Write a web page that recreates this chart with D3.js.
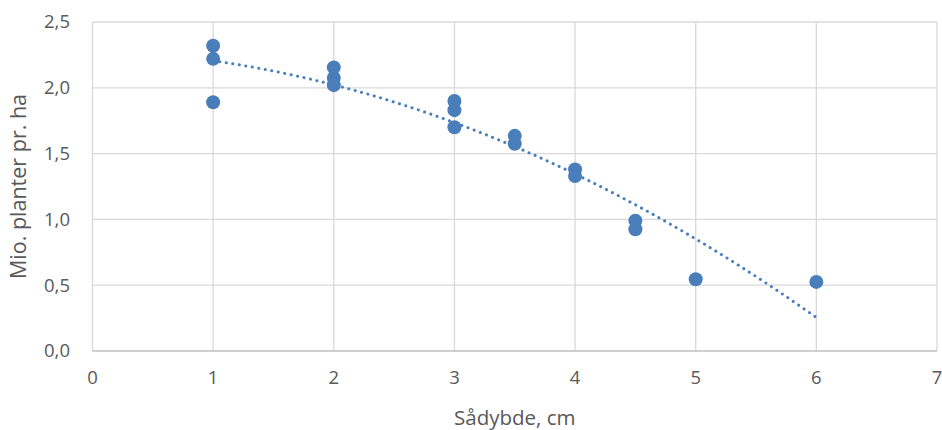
<!DOCTYPE html>
<html>
<head>
<meta charset="utf-8">
<script src="https://cdn.jsdelivr.net/npm/d3@7"></script>
<style>
  body { margin: 0; background: #fff; }
  text { font-family: "Open Sans", "Noto Sans", sans-serif; fill: #595959; }
</style>
</head>
<body>
<svg id="chart"></svg>
<script>
// Sådybde (cm) and plants (mio. per ha)
var depth  = [1, 1, 1, 2, 2, 2, 3, 3, 3, 3.5, 3.5, 4, 4, 4.5, 4.5, 5, 6];
var plants = [2.32, 2.22, 1.89, 2.155, 2.075, 2.02, 1.90, 1.83, 1.70, 1.635, 1.575, 1.38, 1.33, 0.99, 0.925, 0.545, 0.525];
var xTicks = [0, 1, 2, 3, 4, 5, 6, 7];
var yTicks = [0, 0.5, 1, 1.5, 2, 2.5];

var width = 942, height = 430;
var m = {left: 92.5, right: 5, top: 22, bottom: 79};

var svg = d3.select("#chart").attr("width", width).attr("height", height);

var x = d3.scaleLinear().domain([0, 7]).range([m.left, width - m.right]);
var y = d3.scaleLinear().domain([0, 2.5]).range([height - m.bottom, m.top]);
var fmt = d => d3.format(".1f")(d).replace(".", ",");

// grid
svg.append("g").selectAll("line").data(yTicks.slice(1)).enter().append("line")
  .attr("x1", x(0)).attr("x2", x(7))
  .attr("y1", d => y(d)).attr("y2", d => y(d))
  .attr("stroke", "#d9d9d9").attr("stroke-width", 1.3);
svg.append("g").selectAll("line").data(xTicks).enter().append("line")
  .attr("x1", d => x(d)).attr("x2", d => x(d))
  .attr("y1", y(0)).attr("y2", y(2.5))
  .attr("stroke", "#d9d9d9").attr("stroke-width", 1.3);
// x axis line
svg.append("line")
  .attr("x1", x(0)).attr("x2", x(7)).attr("y1", y(0)).attr("y2", y(0))
  .attr("stroke", "#bfbfbf").attr("stroke-width", 1.3);

// tick labels
svg.append("g").selectAll("text").data(yTicks).enter().append("text")
  .attr("x", 70).attr("y", d => y(d)).attr("dy", "0.35em")
  .attr("text-anchor", "end").attr("font-size", 18.5).text(fmt);
svg.append("g").selectAll("text").data(xTicks).enter().append("text")
  .attr("x", d => x(d)).attr("y", y(0) + 33)
  .attr("text-anchor", "middle").attr("font-size", 18.5).text(d => d);

// titles
svg.append("text").attr("x", (x(0) + x(7)) / 2).attr("y", 425)
  .attr("text-anchor", "middle").attr("font-size", 20.5).text("Sådybde, cm");
svg.append("text").attr("transform", "translate(25.5," + ((y(0) + y(2.5)) / 2) + ") rotate(-90)")
  .attr("text-anchor", "middle").attr("font-size", 21.5).text("Mio. planter pr. ha");

// quadratic least-squares trendline
function polyfit2(xs, ys) {
  var n = xs.length, S = [0, 0, 0, 0, 0], T = [0, 0, 0];
  for (var i = 0; i < n; i++) {
    for (var k = 0; k < 5; k++) S[k] += Math.pow(xs[i], k);
    for (var k = 0; k < 3; k++) T[k] += ys[i] * Math.pow(xs[i], k);
  }
  var A = [[S[0], S[1], S[2], T[0]], [S[1], S[2], S[3], T[1]], [S[2], S[3], S[4], T[2]]];
  for (var c = 0; c < 3; c++) {
    for (var r = c + 1; r < 3; r++) {
      var f = A[r][c] / A[c][c];
      for (var k = c; k < 4; k++) A[r][k] -= f * A[c][k];
    }
  }
  var b = [0, 0, 0];
  for (var r = 2; r >= 0; r--) {
    var s = A[r][3];
    for (var k = r + 1; k < 3; k++) s -= A[r][k] * b[k];
    b[r] = s / A[r][r];
  }
  return b;
}
var coef = polyfit2(depth, plants);
var trend = d3.range(1, 6.001, 0.05).map(v => [v, coef[0] + coef[1] * v + coef[2] * v * v]);

// points
svg.append("g").selectAll("circle").data(depth).enter().append("circle")
  .attr("cx", d => x(d)).attr("cy", (d, i) => y(plants[i]))
  .attr("r", 7).attr("fill", "#4a7ebb");

svg.append("path").datum(trend)
  .attr("d", d3.line().x(d => x(d[0])).y(d => y(d[1])))
  .attr("fill", "none").attr("stroke", "#4a7ebb").attr("stroke-width", 3)
  .attr("stroke-linecap", "round").attr("stroke-dasharray", "0.1 6.5");
</script>
</body>
</html>
